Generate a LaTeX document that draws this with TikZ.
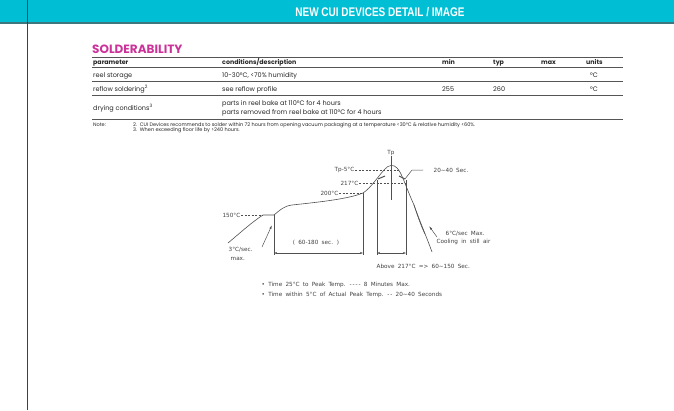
\documentclass[tikz,border=0pt]{standalone}
\usepackage{fontspec}
\setmainfont{Poppins}
\newfontfamily\cadfont[WordSpace=1.8]{DejaVu Sans}
\newfontfamily\titlefont[FakeStretch=0.8]{Liberation Sans}
\usetikzlibrary{arrows.meta}
\definecolor{headcyan}{RGB}{0,190,212}
\definecolor{headline}{RGB}{62,120,126}
\definecolor{solderpink}{RGB}{204,51,153}
\definecolor{rulegray}{RGB}{85,85,85}
\definecolor{plotgray}{RGB}{80,80,80}
\tikzset{
  cell/.style={anchor=base west, inner sep=0pt, text=black!85, font=\fontsize{6.5}{7}\selectfont},
  hcell/.style={cell, font=\fontsize{6.3}{7}\selectfont\bfseries},
  notecell/.style={anchor=base west, inner sep=0pt, text=black!85, font=\fontsize{5}{5.5}\selectfont},
  plotlabel/.style={inner sep=0.5pt, text=black!75, font=\cadfont\fontsize{5.7}{6}\selectfont},
  curve/.style={plotgray, line width=0.6pt},
  level/.style={plotgray, line width=0.5pt, dashed, dash pattern=on 2pt off 1.5pt},
  window/.style={plotgray, line width=0.5pt}
}

\begin{document}
\begin{tikzpicture}[x=1pt,y=-1pt]
  \useasboundingbox (0,0) rectangle (674,410);
  % Draw header bar
  \fill[headcyan] (0,0) rectangle (674,22);
  \fill[headline] (0,22) rectangle (674,24);
  \draw[line width=0.8pt, black!75] (27,0) -- (27,410);
  \node[text=white, font=\titlefont\fontsize{12.5}{13}\selectfont\bfseries] (title) at (380,12.5) {NEW CUI DEVICES DETAIL / IMAGE};

  % Draw table
  \node[anchor=base west, inner sep=0pt, text=solderpink, font=\fontsize{12}{13}\selectfont\bfseries] (heading) at (92,53) {SOLDERABILITY};
  \draw[rulegray, line width=0.9pt] (92,57) -- (623,57);
  \foreach \y in {67,81,95,119}
    \draw[rulegray, line width=0.6pt] (92,\y) -- (623,\y);
  \node[hcell] (hpar) at (93,64) {parameter};
  \node[hcell] (hcond) at (222,64) {conditions/description};
  \node[hcell] (hmin) at (442,64) {min};
  \node[hcell] (htyp) at (493,64) {typ};
  \node[hcell] (hmax) at (541,64) {max};
  \node[hcell] (hunit) at (586,64) {units};
  \node[cell] (parreel) at (93,77.5) {reel storage};
  \node[cell] (condreel) at (222,77.5) {10-30°C, <70\% humidity};
  \node[cell] (unitreel) at (590,77.5) {°C};
  \node[cell] (parreflow) at (93,91) {reflow soldering\textsuperscript{2}};
  \node[cell] (condreflow) at (222,91) {see reflow profile};
  \node[cell] (minreflow) at (442,91) {255};
  \node[cell] (typreflow) at (493,91) {260};
  \node[cell] (unitreflow) at (590,91) {°C};
  \node[cell] (pardry) at (93,110) {drying conditions\textsuperscript{3}};
  \node[cell] (conddrya) at (222,105) {parts in reel bake at 110°C for 4 hours};
  \node[cell] (conddryb) at (222,114) {parts removed from reel bake at 110°C for 4 hours};
  \node[notecell] (note) at (93,126) {Note:};
  \node[notecell] (notea) at (133,126) {2.~~CUI Devices recommends to solder within 72 hours from opening vacuum packaging at a temperature <30°C \& relative humidity <60\%.};
  \node[notecell] (noteb) at (133,131) {3.~~When exceeding floor life by >240 hours.};

  % Draw reflow profile
  \coordinate (start) at (228,243);
  \coordinate (soaka) at (263,215);
  \coordinate (soakb) at (274,215);
  \coordinate (ramp) at (363,193);
  \coordinate (split) at (414,205);
  \coordinate (coolend) at (432,252);
  \coordinate (coolbr) at (425,234);
  \draw[curve] (start) .. controls (240,233) and (252,222) .. (soaka) -- (soakb)
    .. controls (280,210) and (284,206) .. (292,205)
    .. controls (320,202) and (348,199) .. (ramp)
    .. controls (371,188) and (379,175) .. (385,169)
    .. controls (388,165) and (394,164) .. (397,168)
    .. controls (402,173) and (405,185) .. (split)
    .. controls (420,222) and (427,238) .. (coolend);
  \draw[curve] (split) .. controls (418,217) and (421,226) .. (coolbr);

  % Draw levels
  \node[plotlabel, anchor=east] (lbla) at (241,215) {150°C};
  \draw[level] (lbla) -- (soaka);
  \node[plotlabel, anchor=east] (lblb) at (339,193) {200°C};
  \draw[level] (lblb) -- (ramp);
  \node[plotlabel, anchor=east] (lblc) at (359,183) {217°C};
  \coordinate (lvlc) at (405,183);
  \draw[level] (lblc) -- (lvlc);
  \node[plotlabel, anchor=east] (lbld) at (355,170) {Tp-5°C};
  \coordinate (lvld) at (399,170);
  \draw[level] (lbld) -- (lvld);
  \node[plotlabel, anchor=south] (lbltp) at (391,156) {Tp};
  \coordinate (tpfoot) at (391,200);
  \draw[window] (lbltp) -- (tpfoot);

  % Draw time windows
  \coordinate (soakfoot) at (274,255);
  \coordinate (rampfoot) at (363,255);
  \coordinate (abovea) at (377,180);
  \coordinate (aboveb) at (406,180);
  \coordinate (abovefa) at (377,255);
  \coordinate (abovefb) at (406,255);
  \draw[window] (soakb) -- (soakfoot);
  \draw[window] (ramp) -- (rampfoot);
  \draw[window] (abovea) -- (abovefa);
  \draw[window] (aboveb) -- (abovefb);
  \draw[window, {Stealth[length=3pt,width=2pt]}-{Stealth[length=3pt,width=2pt]}] (274,253) -- (363,253);
  \draw[window, {Stealth[length=3pt,width=2pt]}-{Stealth[length=3pt,width=2pt]}] (377,253) -- (406,253);
  \node[plotlabel] (soaktime) at (316,243) {( 60-180 sec. )};
  \node[plotlabel, anchor=west] (abovetime) at (376,266) {Above 217°C => 60\char"007E 150 Sec.};

  % Draw peak window
  \coordinate (tpa) at (378,179);
  \coordinate (tpb) at (385,176);
  \coordinate (tpc) at (399,176);
  \coordinate (tpd) at (405,179);
  \coordinate (tpe) at (412,170);
  \coordinate (tpf) at (423,170);
  \draw[plotgray, line width=1pt] (tpa) -- (tpb);
  \draw[plotgray, line width=1pt] (tpc) -- (tpd);
  \draw[window] (tpd) -- (tpe) -- (tpf);
  \node[plotlabel, anchor=west] (peaktime) at (433,170) {20\char"007E 40 Sec.};

  % Draw rate notes
  \node[plotlabel, anchor=west] (heatrate) at (228,250) {3°C/sec.};
  \node[plotlabel, anchor=west] (heatmax) at (230,259) {max.};
  \coordinate (heattip) at (272,225);
  \coordinate (heattail) at (262,247);
  \draw[window, -{Latex[length=4pt,width=2pt]}] (heattail) -- (heattip);
  \node[plotlabel, anchor=west] (coolrate) at (445,234) {6°C/sec Max.};
  \node[plotlabel, anchor=west] (coolair) at (436,242) {Cooling in still air};
  \coordinate (cooltip) at (429,226);
  \coordinate (cooltail) at (437,237);
  \draw[window, -{Latex[length=4pt,width=2pt]}] (cooltail) -- (cooltip);

  % Draw remarks
  \node[plotlabel, anchor=west] (remarka) at (261,285) {• Time 25°C to Peak Temp. {-}\,{-}\,{-}\,{-} 8 Minutes Max.};
  \node[plotlabel, anchor=west] (remarkb) at (261,295) {• Time within 5°C of Actual Peak Temp. {-}\,{-} 20\char"007E 40 Seconds};
\end{tikzpicture}
\end{document}
